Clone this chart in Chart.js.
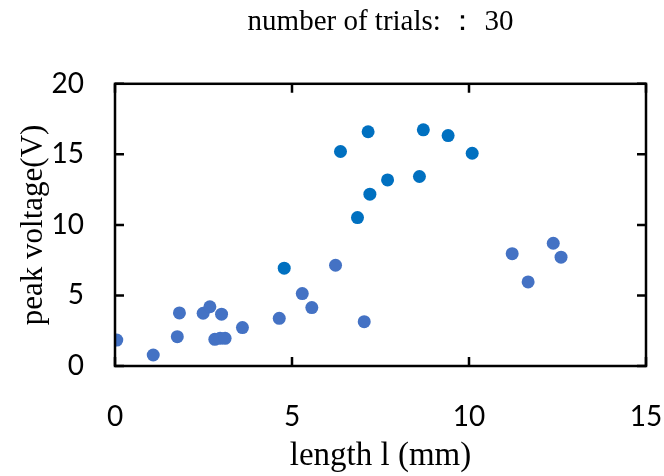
<!DOCTYPE html>
<html>
<head>
<meta charset="utf-8">
<script src="https://cdn.jsdelivr.net/npm/chart.js@4.4.1/dist/chart.umd.min.js"></script>
<style>
  html, body { margin: 0; padding: 0; background: #fff; }
</style>
</head>
<body>
<canvas id="trialChart" width="664" height="476"></canvas>
<script>
// === data ===
const chartTitle = "number of trials: \uFF1A 30";
const xAxisTitle = "length l (mm)";
const yAxisTitle = "peak voltage(V)";
const xTicks = [0, 5, 10, 15];
const yTicks = [0, 5, 10, 15, 20];

// lighter blue points
const lengthA = [0.05, 1.08, 1.76, 1.82, 2.49, 2.68, 3.01, 2.82, 2.97, 3.11, 3.60, 4.64, 5.29, 5.56, 6.23, 7.04, 11.22, 11.67, 12.38, 12.60];
const voltageA = [1.84, 0.78, 2.08, 3.76, 3.74, 4.20, 3.67, 1.89, 1.96, 1.96, 2.72, 3.38, 5.13, 4.14, 7.14, 3.14, 7.96, 5.96, 8.70, 7.71];
// darker blue points
const lengthB = [4.78, 6.37, 7.15, 7.70, 7.20, 6.85, 8.60, 8.71, 9.41, 10.09];
const voltageB = [6.93, 15.20, 16.60, 13.19, 12.18, 10.52, 13.43, 16.74, 16.33, 15.08];

function toPoints(xs, ys) {
  return xs.map((x, i) => ({ x: x, y: ys[i] }));
}

// inward tick marks on all four sides plus the frame
const frameTicks = {
  id: "frameTicks",
  afterDatasetsDraw(chart) {
    const { ctx, chartArea: a, scales: { x, y } } = chart;
    const len = 9;
    ctx.save();
    ctx.strokeStyle = "#000";
    ctx.lineWidth = 2.5;
    ctx.beginPath();
    xTicks.forEach(v => {
      const px = x.getPixelForValue(v);
      ctx.moveTo(px, a.bottom); ctx.lineTo(px, a.bottom - len);
      ctx.moveTo(px, a.top); ctx.lineTo(px, a.top + len);
    });
    yTicks.forEach(v => {
      const py = y.getPixelForValue(v);
      ctx.moveTo(a.left, py); ctx.lineTo(a.left + len, py);
      ctx.moveTo(a.right, py); ctx.lineTo(a.right - len, py);
    });
    ctx.stroke();
    ctx.strokeRect(a.left, a.top, a.right - a.left, a.bottom - a.top);
    ctx.restore();
  }
};

const serif = "'Liberation Serif', 'Times New Roman', serif";
const sans = "Lato, 'Liberation Sans', sans-serif";

new Chart(document.getElementById("trialChart").getContext("2d"), {
  type: "scatter",
  data: {
    datasets: [
      { label: "A", data: toPoints(lengthA, voltageA), backgroundColor: "#4472C4", borderColor: "#4472C4", pointRadius: 6.5, pointHoverRadius: 6.5, borderWidth: 0 },
      { label: "B", data: toPoints(lengthB, voltageB), backgroundColor: "#0070C0", borderColor: "#0070C0", pointRadius: 6.5, pointHoverRadius: 6.5, borderWidth: 0 },
    ]
  },
  options: {
    responsive: false,
    animation: false,
    devicePixelRatio: 1,
    layout: { padding: { left: 0, right: 18, top: 0, bottom: 0 } },
    plugins: {
      legend: { display: false },
      tooltip: { enabled: false },
      title: {
        display: true, text: chartTitle, color: "#000", fullSize: false,
        font: { size: 29, family: serif, weight: "normal" },
        padding: { top: 5, bottom: 44 }
      },
    },
    scales: {
      x: {
        type: "linear", min: 0, max: 15,
        afterBuildTicks: s => { s.ticks = xTicks.map(v => ({ value: v })); },
        afterFit: s => { s.height = 110; s.paddingLeft = 0; s.paddingRight = 0; },
        grid: { display: false, drawTicks: false },
        border: { display: false },
        ticks: { color: "#000", padding: 34, font: { size: 28, family: sans } },
        title: { display: true, text: xAxisTitle, color: "#000", font: { size: 33, family: serif }, padding: { top: 0, bottom: 0 } }
      },
      y: {
        type: "linear", min: 0, max: 20,
        afterBuildTicks: s => { s.ticks = yTicks.map(v => ({ value: v })); },
        afterFit: s => { s.width = 115; s.paddingTop = 0; s.paddingBottom = 0; },
        grid: { display: false, drawTicks: false },
        border: { display: false },
        ticks: { color: "#000", padding: 31, font: { size: 28, family: sans } },
        title: { display: true, text: yAxisTitle, color: "#000", font: { size: 31, family: serif }, padding: { top: 15, bottom: 0 } }
      }
    }
  },
  plugins: [frameTicks]
});
</script>
</body>
</html>
